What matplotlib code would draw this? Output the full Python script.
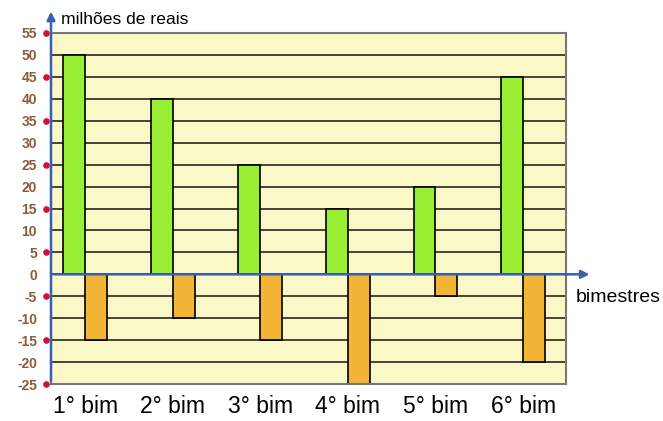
import numpy as np
import matplotlib
matplotlib.use("Agg")
import matplotlib.pyplot as plt

plt.rcParams['font.family'] = ['Liberation Sans', 'DejaVu Sans']

bimestres = ['1° bim', '2° bim', '3° bim', '4° bim', '5° bim', '6° bim']
positivos = [50, 40, 25, 15, 20, 45]
negativos = [-15, -10, -15, -25, -5, -20]
yticks = list(range(-25, 60, 5))
dots = list(range(-25, 60, 10))

fig = plt.figure(figsize=(6.63, 4.21), dpi=100)
ax = fig.add_axes([51/663, 37/421, 515/663, 351/421])
ax.set_facecolor('#faf8c6')

x = np.arange(len(bimestres))
w = 0.25
# grid lines
for v in yticks:
    ax.axhline(v, color='black', lw=1.2, alpha=0.85, zorder=1)
ax.bar(x - w/2, positivos, width=w, color='#99ee33', edgecolor='black', lw=1.2, zorder=2)
ax.bar(x + w/2, negativos, width=w, color='#f2b535', edgecolor='black', lw=1.2, zorder=2)

ax.set_xlim(-0.39, 5.49)
ax.set_ylim(-25, 55)
for s in ax.spines.values():
    s.set_color('#777777')
    s.set_linewidth(1.5)
ax.set_xticks(x)
ax.set_xticklabels(bimestres, fontsize=16.5)
ax.tick_params(axis='x', length=0, pad=8)
ax.set_yticks(yticks)
ax.set_yticklabels([str(v) for v in yticks], fontsize=10, color='#8c5a3c', fontweight='bold')
ax.tick_params(axis='y', length=0, pad=10)

# red dots on y axis
ax.scatter([-0.39 - 5/87.6] * len(dots), dots, s=14, color='#d0103a', clip_on=False, zorder=5)

# blue axes arrows
ax.annotate('', xy=(-0.39, 60.5), xytext=(-0.39, -25), xycoords='data',
            arrowprops=dict(arrowstyle='-|>', color='#3a5fb0', lw=1.8, mutation_scale=12),
            annotation_clip=False, zorder=6)
ax.annotate('', xy=(5.79, 0), xytext=(-0.39, 0), xycoords='data',
            arrowprops=dict(arrowstyle='-|>', color='#3a5fb0', lw=1.8, mutation_scale=12),
            annotation_clip=False, zorder=6)

fig.text(61/663, 1 - 20/421, 'milhões de reais', fontsize=12.6, va='center', ha='left')
fig.text(576/663, 1 - 298/421, 'bimestres', fontsize=14, va='center', ha='left')

fig.savefig('out.png', dpi=100)
